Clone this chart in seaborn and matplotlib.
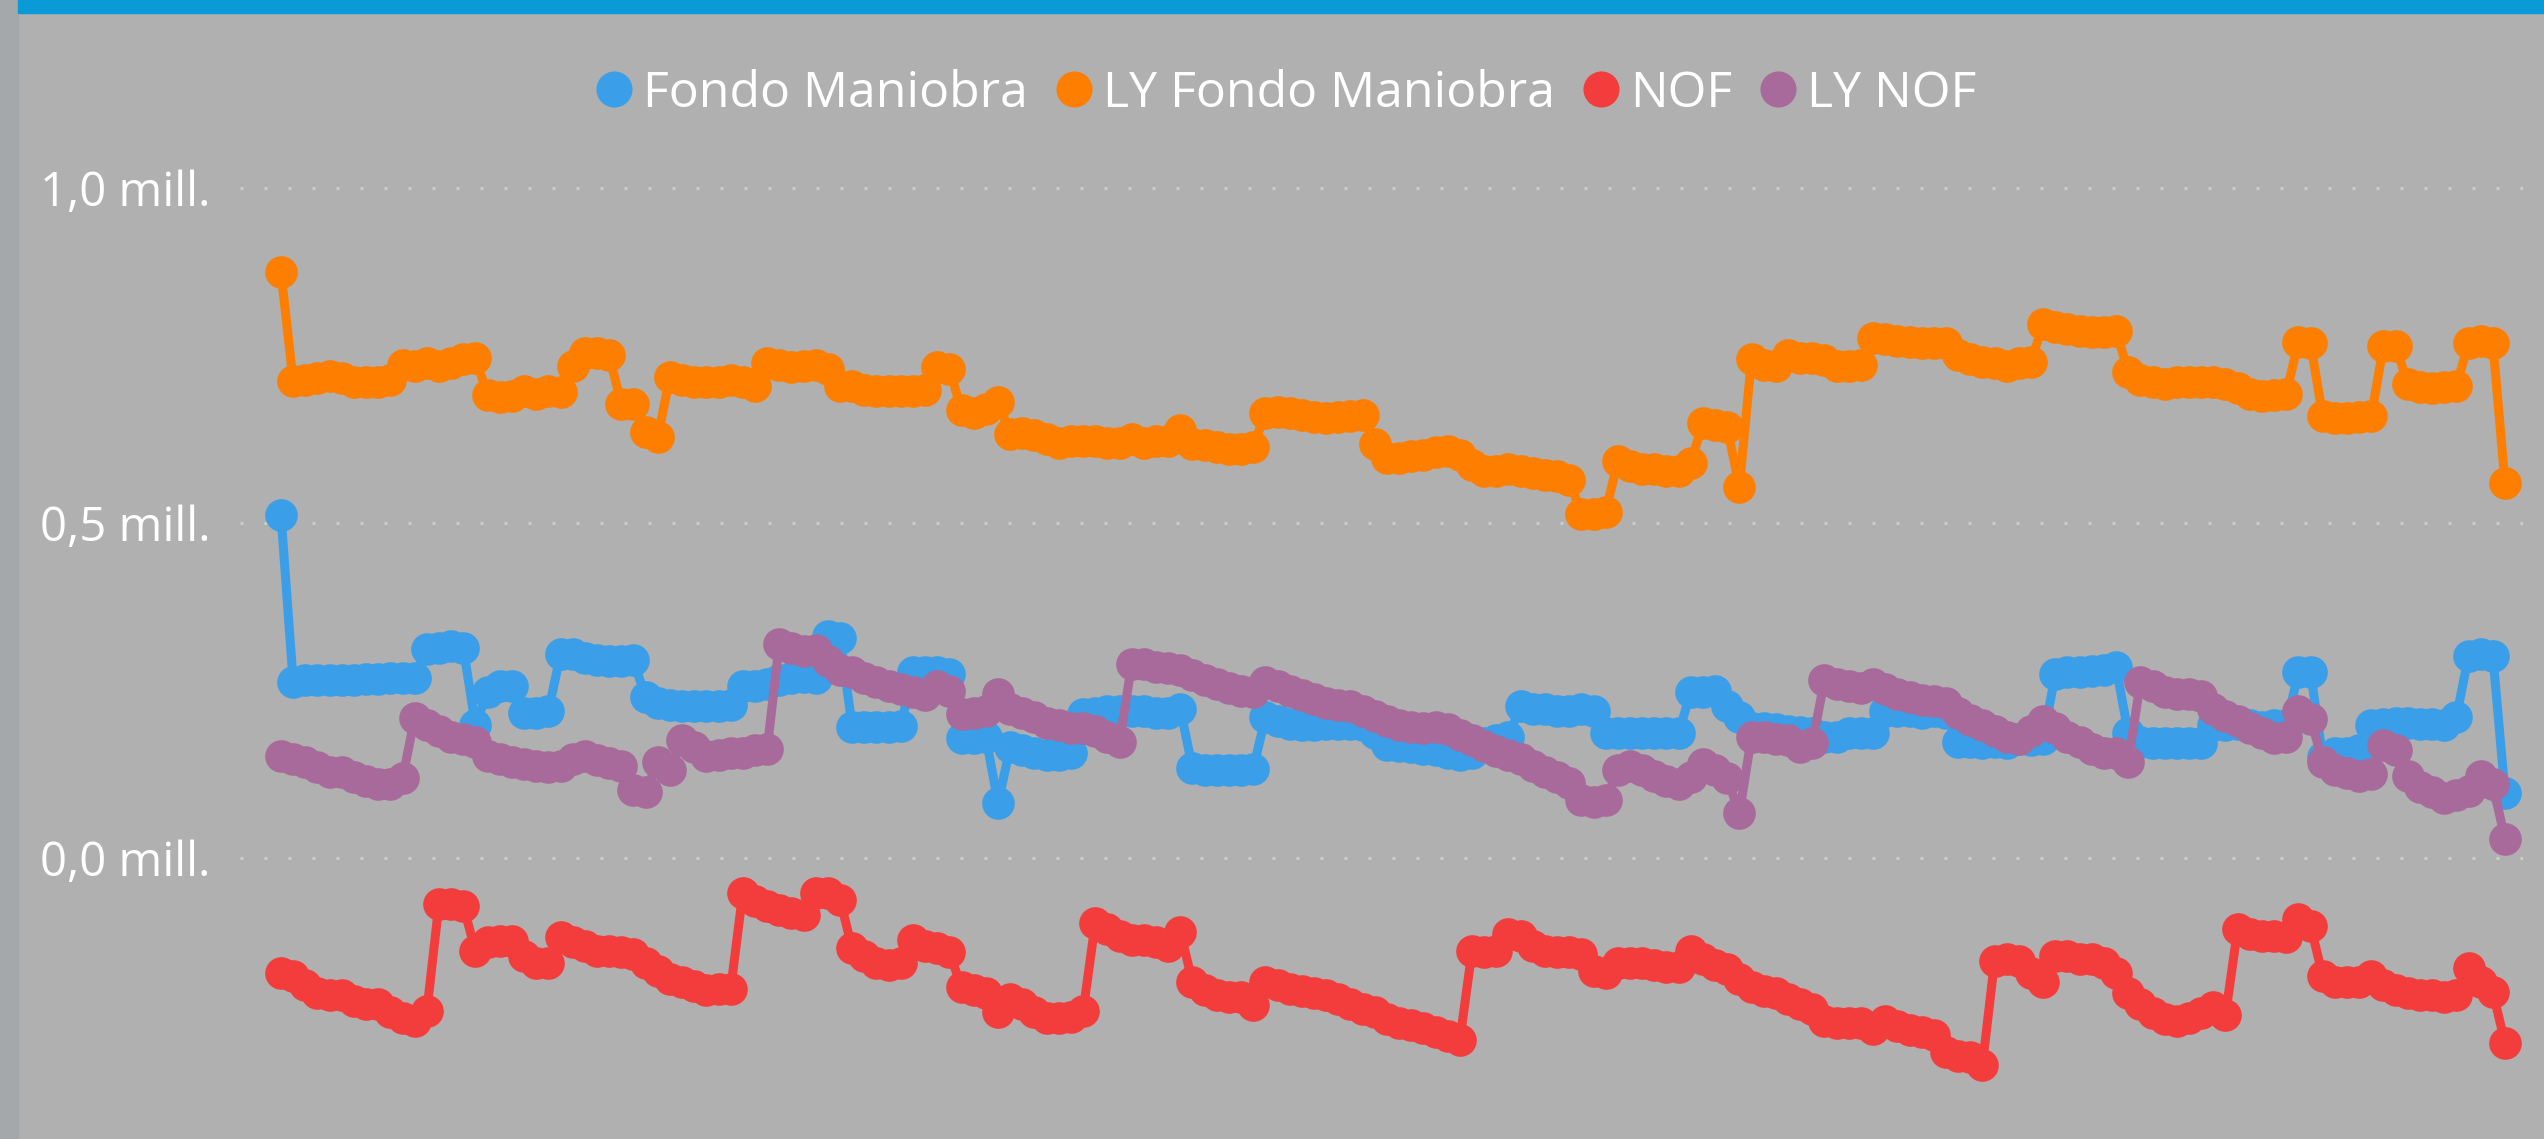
import pandas as pd
import seaborn as sns
import matplotlib.pyplot as plt
from matplotlib.lines import Line2D
from matplotlib.patches import Rectangle
from matplotlib.ticker import FuncFormatter

# valores en miles de euros, un punto por dia
fondo_maniobra = [
    512, 263, 265, 265, 266, 266, 266, 267, 267, 268,
    268, 269, 312, 314, 316, 314, 198, 248, 256, 256,
    217, 217, 219, 304, 304, 298, 295, 294, 294, 295,
    240, 231, 229, 227, 227, 227, 227, 229, 256, 256,
    259, 265, 269, 270, 269, 331, 329, 196, 196, 195,
    196, 197, 277, 277, 277, 275, 179, 179, 181, 82,
    165, 161, 156, 154, 154, 156, 215, 217, 219, 220,
    220, 219, 217, 217, 223, 134, 131, 131, 131, 131,
    133, 210, 204, 200, 198, 198, 200, 200, 200, 198,
    186, 169, 167, 165, 162, 161, 156, 154, 156, 171,
    176, 181, 227, 223, 223, 220, 220, 223, 220, 186,
    186, 186, 186, 186, 186, 186, 248, 248, 250, 227,
    210, 194, 194, 192, 190, 188, 186, 181, 181, 186,
    186, 186, 219, 220, 219, 217, 219, 217, 173, 173,
    171, 173, 171, 177, 176, 177, 275, 277, 277, 279,
    281, 285, 186, 173, 171, 171, 171, 171, 171, 198,
    198, 200, 198, 196, 198, 198, 277, 277, 151, 156,
    156, 161, 198, 200, 202, 202, 200, 200, 198, 210,
    302, 304, 302, 97,
]

ly_fondo_maniobra = [
    874, 712, 714, 716, 720, 716, 711, 711, 711, 714,
    736, 735, 739, 735, 739, 745, 747, 691, 688, 689,
    697, 693, 697, 695, 735, 753, 753, 750, 678, 678,
    636, 628, 718, 714, 711, 710, 711, 714, 710, 705,
    739, 736, 733, 735, 736, 730, 705, 705, 699, 697,
    697, 697, 697, 699, 733, 730, 668, 664, 670, 681,
    633, 635, 631, 626, 620, 622, 622, 622, 620, 620,
    625, 620, 622, 622, 639, 618, 616, 614, 611, 611,
    614, 664, 666, 664, 661, 658, 656, 658, 660, 661,
    618, 597, 597, 600, 601, 606, 608, 601, 587, 578,
    577, 581, 578, 575, 572, 570, 564, 514, 514, 516,
    593, 585, 581, 581, 578, 577, 589, 650, 647, 643,
    554, 745, 736, 735, 750, 747, 747, 743, 735, 735,
    736, 776, 775, 772, 770, 768, 768, 768, 750, 745,
    741, 739, 735, 739, 741, 797, 793, 789, 786, 785,
    785, 786, 726, 714, 710, 708, 710, 710, 710, 710,
    708, 701, 693, 689, 691, 693, 770, 768, 660, 656,
    656, 658, 660, 764, 764, 708, 703, 701, 703, 705,
    768, 772, 768, 560,
]

nof = [
    -172, -176, -189, -201, -204, -204, -214, -218, -218, -230,
    -239, -243, -229, -68, -68, -71, -139, -126, -124, -124,
    -147, -156, -156, -118, -126, -131, -139, -139, -141, -143,
    -156, -168, -181, -185, -191, -197, -196, -196, -52, -64,
    -72, -77, -82, -85, -52, -52, -62, -135, -147, -156,
    -160, -157, -122, -131, -135, -141, -193, -197, -201, -230,
    -210, -218, -230, -239, -239, -237, -229, -97, -106, -116,
    -122, -122, -126, -131, -110, -185, -197, -205, -207, -207,
    -220, -185, -189, -196, -199, -201, -204, -210, -218, -226,
    -230, -240, -247, -249, -254, -260, -265, -272, -139, -141,
    -139, -114, -116, -131, -139, -141, -141, -143, -168, -172,
    -156, -156, -157, -160, -162, -162, -139, -151, -160, -166,
    -181, -193, -199, -201, -210, -218, -226, -243, -247, -247,
    -247, -255, -243, -251, -257, -260, -264, -289, -295, -297,
    -309, -154, -151, -154, -172, -185, -146, -147, -151, -151,
    -156, -172, -201, -218, -232, -240, -243, -239, -232, -222,
    -235, -106, -114, -116, -116, -118, -91, -101, -176, -185,
    -185, -185, -176, -189, -197, -201, -204, -205, -207, -204,
    -164, -185, -200, -276,
]

ly_nof = [
    152, 148, 144, 136, 129, 129, 121, 115, 111, 111,
    119, 209, 198, 190, 181, 177, 173, 152, 148, 144,
    140, 137, 136, 137, 148, 152, 146, 142, 137, 102,
    98, 144, 131, 176, 165, 152, 154, 156, 156, 161,
    162, 320, 314, 309, 310, 294, 281, 277, 269, 262,
    256, 252, 248, 244, 256, 250, 215, 217, 219, 245,
    223, 217, 210, 202, 198, 194, 194, 190, 181, 173,
    290, 290, 285, 284, 281, 273, 265, 259, 254, 250,
    248, 262, 256, 250, 244, 237, 231, 229, 227, 220,
    212, 204, 198, 196, 194, 196, 192, 184, 176, 167,
    159, 154, 148, 137, 129, 121, 112, 86, 84, 86,
    131, 137, 131, 123, 115, 111, 121, 140, 131, 119,
    67, 181, 181, 177, 176, 165, 171, 265, 259, 256,
    254, 260, 252, 245, 240, 236, 234, 231, 217, 206,
    198, 190, 181, 177, 190, 204, 194, 181, 173, 162,
    156, 156, 144, 262, 256, 248, 245, 245, 242, 223,
    212, 204, 194, 186, 179, 181, 220, 208, 144, 131,
    127, 123, 126, 169, 161, 123, 106, 98, 90, 94,
    100, 123, 110, 28,
]

series = ["Fondo Maniobra", "LY Fondo Maniobra", "NOF", "LY NOF"]
colores = ["#3a9fe8", "#fe7e00", "#f33d3d", "#a86a9a"]
valores = [fondo_maniobra, ly_fondo_maniobra, nof, ly_nof]

df = pd.concat(
    [pd.DataFrame({"dia": range(len(v)), "valor": v, "serie": s})
     for s, v in zip(series, valores)],
    ignore_index=True,
)

sns.set_theme(style="white")
plt.rcParams['font.family'] = ['Open Sans', 'DejaVu Sans']

gris = "#b0b0b0"
W, H = 2544, 1139
fig = plt.figure(figsize=(W / 100, H / 100), dpi=100, facecolor=gris)

# franja lateral y barra de titulo
fig.patches.append(Rectangle((0, 0), 18 / W, 1, transform=fig.transFigure,
                             color="#a5a8ab", zorder=0))
fig.patches.append(Rectangle((18 / W, 1 - 13 / H), 1, 13 / H,
                             transform=fig.transFigure, color="#0a9ad7", zorder=0))

ax = fig.add_axes([240 / W, 0, 2283 / W, 999 / H])
ax.set_facecolor(gris)

sns.lineplot(data=df, x="dia", y="valor", hue="serie", hue_order=series,
             palette=colores, marker="o", markersize=23.5, markeredgewidth=0,
             linewidth=6.5, estimator=None, legend=False, ax=ax)

paso = 12.153
ax.set_xlim(-41 / paso, (2523 - 281) / paso)
ax.set_ylim((858 - 1139) / 0.67, (858 - 140) / 0.67)

ax.set_xticks([])
ax.set_yticks([0, 500, 1000])
ax.yaxis.set_major_formatter(
    FuncFormatter(lambda v, _: f"{v / 1000:.1f}".replace(".", ",") + " mill."))
ax.tick_params(axis="y", length=0, pad=21, labelsize=34, labelcolor="white")
ax.yaxis.grid(True, color="#cdcdcd", linewidth=2.16, linestyle=(0, (1, 7)))
ax.xaxis.grid(False)
ax.set_axisbelow(True)
ax.set_xlabel("")
ax.set_ylabel("")
for s in ax.spines.values():
    s.set_visible(False)

handles = [Line2D([], [], linestyle="none", marker="o", markersize=26,
                  markeredgewidth=0, color=c) for c in colores]
fig.legend(handles, series, loc="center", bbox_to_anchor=(0.5055, 1 - 94 / H),
           ncol=4, frameon=False, fontsize=36, labelcolor="white",
           handlelength=0.75, handletextpad=0.2, columnspacing=0.55,
           borderpad=0)

fig.savefig("out.png", dpi=100, facecolor=gris)
